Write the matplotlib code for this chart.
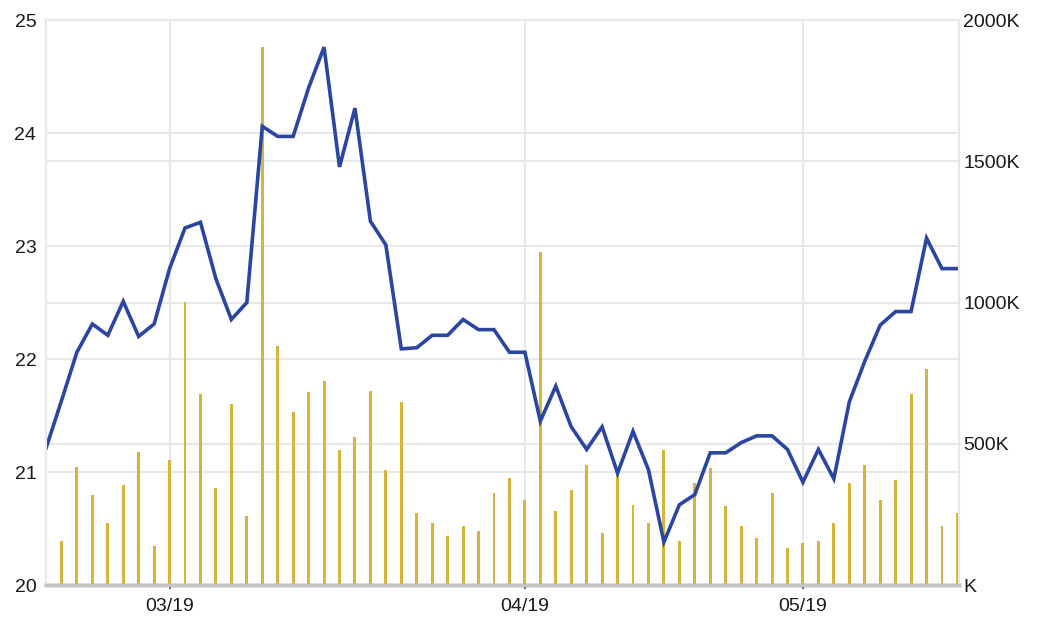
import matplotlib
matplotlib.use('Agg')
import matplotlib.pyplot as plt
from matplotlib.ticker import FuncFormatter

# --- Data ---
# price per session, index 0..59
price = [21.21, 21.63, 22.06, 22.31, 22.21, 22.51, 22.20, 22.31, 22.80, 23.16,
         23.21, 22.71, 22.35, 22.50, 24.06, 23.97, 23.97, 24.40, 24.76, 23.70,
         24.22, 23.22, 23.01, 22.09, 22.10, 22.21, 22.21, 22.35, 22.26, 22.26,
         22.06, 22.06, 21.45, 21.76, 21.40, 21.20, 21.40, 20.99, 21.36, 21.02,
         20.38, 20.71, 20.80, 21.17, 21.17, 21.26, 21.32, 21.32, 21.20, 20.91,
         21.20, 20.94, 21.62, 21.98, 22.30, 22.42, 22.42, 23.07, 22.80, 22.80]

# volume per session (thousands), index 1..59
volume = [157, 417, 317, 218, 354, 470, 138, 442, 1001, 676,
          344, 640, 245, 1905, 847, 613, 684, 722, 479, 525,
          687, 407, 649, 256, 221, 175, 210, 192, 327, 380,
          301, 1178, 263, 336, 425, 183, 393, 282, 218, 478,
          156, 362, 413, 281, 209, 165, 327, 130, 148, 157,
          218, 362, 425, 300, 372, 675, 765, 209, 254]
volume = [v * 1000 for v in volume]

month_pos = [8, 31, 49]
month_labels = ['03/19', '04/19', '05/19']

line_color = '#2b46a0'
bar_color = '#d6b53a'
grid_color = '#e8e8e8'

plt.rcParams['font.family'] = ['Liberation Sans', 'DejaVu Sans']

fig = plt.figure(figsize=(10.5, 6.3), dpi=100)
ax = fig.add_axes([0.0438, 0.0714, 0.8695, 0.8968])

x_line = list(range(len(price)))
x_bar = list(range(1, len(volume) + 1))

# price axis (bottom layer, left labels, grid)
ax.set_xlim(0, 59.1)
ax.set_ylim(20, 25)
ax.set_yticks([20, 21, 22, 23, 24, 25])
ax.set_xticks(month_pos)
ax.set_xticklabels(month_labels)
ax.grid(True, color=grid_color, linewidth=1.5)
ax.tick_params(axis='y', length=0, pad=7, labelsize=14, labelcolor='#1a1a1a')
ax.tick_params(axis='x', length=3, width=1.2, color='#333333', pad=6,
               labelsize=14, labelcolor='#1a1a1a')

# volume axis (bars, right labels)
axv = ax.twinx()
axv.bar(x_bar, volume, width=0.19, color=bar_color, zorder=2)
axv.set_ylim(0, 2000000)
axv.set_yticks([0, 500000, 1000000, 1500000, 2000000])
axv.yaxis.set_major_formatter(FuncFormatter(lambda v, p: f"{int(v / 1000)}K" if v else "K"))
axv.grid(True, axis='y', color=grid_color, linewidth=1.5, zorder=0)
axv.tick_params(axis='y', length=0, pad=3, labelsize=14, labelcolor='#1a1a1a')

# price line on top
axl = ax.twinx()
axl.plot(x_line, price, color=line_color, linewidth=2.6, solid_joinstyle='miter')
axl.set_ylim(20, 25)
axl.set_yticks([])

for a in (ax, axv, axl):
    for s in a.spines.values():
        s.set_color(grid_color)
        s.set_linewidth(1.5)
    a.spines['bottom'].set_color('#c4c4c4')
    a.spines['bottom'].set_linewidth(2.5)

plt.savefig('out.png', dpi=100)
plt.close()
